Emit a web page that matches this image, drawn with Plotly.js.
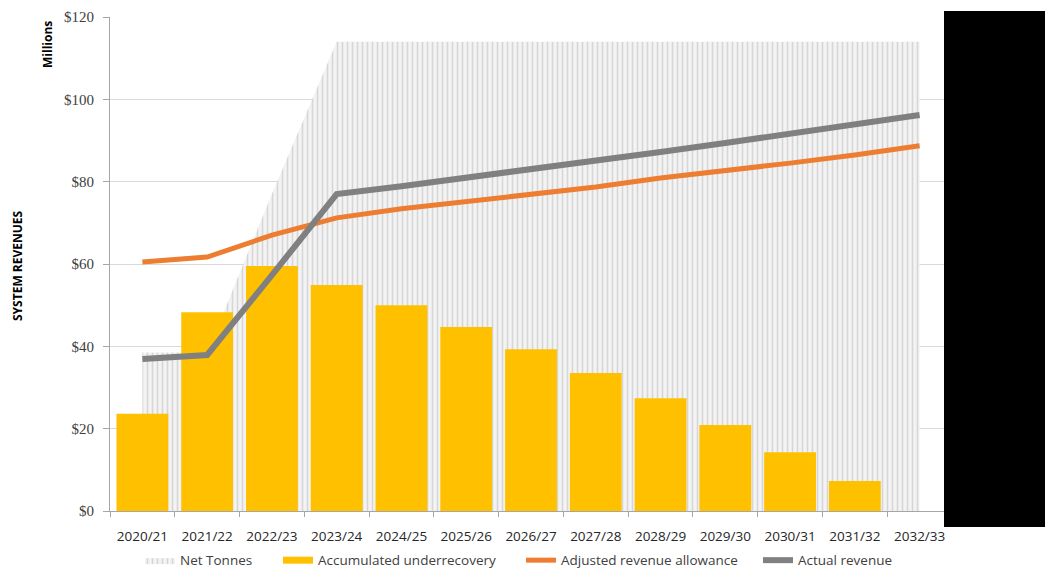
<!DOCTYPE html>
<html>
<head>
<meta charset="utf-8">
<script src="https://cdn.plot.ly/plotly-3.0.1.min.js"></script>
<style>html,body{margin:0;padding:0;background:#fff;}#chart{width:1045px;height:577px;}</style>
</head>
<body>
<div id="chart"></div>
<script>
const years = ["2020/21","2021/22","2022/23","2023/24","2024/25","2025/26","2026/27","2027/28","2028/29","2029/30","2030/31","2031/32","2032/33"];
const netTonnes = [38.5, 38.5, 77, 114, 114, 114, 114, 114, 114, 114, 114, 114, 114];
const underrecovery = [23.6, 48.3, 59.5, 54.9, 50.0, 44.7, 39.3, 33.5, 27.4, 20.9, 14.3, 7.3, 0];
const adjustedAllowance = [60.5, 61.7, 67.0, 71.2, 73.4, 75.1, 76.8, 78.7, 80.9, 82.6, 84.5, 86.5, 88.7];
const actualRevenue = [36.9, 37.9, 57.3, 77.0, 78.9, 80.9, 83.1, 85.0, 87.2, 89.4, 91.6, 93.8, 96.2];
const yTicks = [0, 20, 40, 60, 80, 100, 120];
const yTickText = ["$0", "$20", "$40", "$60", "$80", "$100", "$120"];

const font = "Open Sans, Liberation Sans, sans-serif";

const traces = [
  {
    type: "scatter", mode: "lines", name: "Net Tonnes", x: years, y: netTonnes,
    xaxis: "x", yaxis: "y", legend: "legend",
    fill: "tozeroy", line: {width: 0, color: "rgba(0,0,0,0)"},
    fillcolor: "#f2f2f2",
    fillpattern: {shape: "|", fgcolor: "#d6d6d6", bgcolor: "#f3f3f3", size: 5, solidity: 0.3},
    hoverinfo: "skip"
  },
  {
    type: "bar", name: "Accumulated underrecovery", x: years, y: underrecovery,
    xaxis: "x2", yaxis: "y2", showlegend: false,
    marker: {color: "#FFC000"}, width: 0.8
  },
  {
    // legend-only entry so the swatch is a wide rectangle like the reference
    type: "scatter", mode: "lines", name: "Accumulated underrecovery", x: [null], y: [null],
    xaxis: "x2", yaxis: "y2", legend: "legend2",
    line: {color: "#FFC000", width: 7}
  },
  {
    type: "scatter", mode: "lines", name: "Adjusted revenue allowance", x: years, y: adjustedAllowance,
    xaxis: "x2", yaxis: "y2", legend: "legend3",
    line: {color: "#ED7D31", width: 5}
  },
  {
    type: "scatter", mode: "lines", name: "Actual revenue", x: years, y: actualRevenue,
    xaxis: "x2", yaxis: "y2", legend: "legend4",
    line: {color: "#808080", width: 6}
  }
];

// paper spans y 17..577 (b = 0); plot bottom at pixel 511
const PH = 560, PW = 842;
const py = (pix) => (577 - pix) / PH;
const px = (pix) => (pix - 110) / PW;

const legFont = {family: font, size: 13.5, color: "#404040"};
const mkLeg = (textStart) => ({orientation: "h", x: px(textStart - 40), xanchor: "left", y: 0.002, yanchor: "bottom",
                               font: legFont, bgcolor: "rgba(0,0,0,0)"});

const layout = {
  width: 1045, height: 577,
  margin: {l: 110, r: 93, t: 17, b: 0},
  paper_bgcolor: "#ffffff", plot_bgcolor: "#ffffff",
  font: {family: font, size: 13, color: "#404040"},
  showlegend: true,
  legend: mkLeg(180),
  legend2: mkLeg(318),
  legend3: mkLeg(561),
  legend4: mkLeg(798),
  xaxis: {
    type: "category", tickson: "boundaries", ticks: "outside", ticklen: 5, tickcolor: "#a6a6a6",
    showline: true, linecolor: "#a6a6a6", linewidth: 1, showgrid: false, ticklabelstandoff: 13,
    tickfont: {family: font, size: 13.5, color: "#262626"}, range: [-0.5, 12.5]
  },
  xaxis2: {type: "category", overlaying: "x", range: [-0.5, 12.5], visible: false},
  yaxis: {
    domain: [py(511), 1],
    range: [0, 120], tickvals: yTicks, ticktext: yTickText, ticks: "outside", ticklen: 6, tickcolor: "#a6a6a6",
    showline: true, linecolor: "#a6a6a6", linewidth: 1, showgrid: true, gridcolor: "#d9d9d9",
    zeroline: false, ticklabelstandoff: 6,
    tickfont: {family: "Liberation Serif, serif", size: 15, color: "#404040"}
  },
  yaxis2: {overlaying: "y", range: [0, 120], visible: false},
  annotations: [
    {text: "<b>Millions</b>", xref: "paper", yref: "paper", x: px(47), y: py(45), textangle: -90,
     showarrow: false, font: {family: font, size: 12, color: "#000"}, xanchor: "center", yanchor: "middle"},
    {text: "<b>SYSTEM REVENUES</b>", xref: "paper", yref: "paper", x: px(17), y: py(266), textangle: -90,
     showarrow: false, font: {family: font, size: 12, color: "#000"}, xanchor: "center", yanchor: "middle"}
  ],
  shapes: [
    {type: "rect", xref: "paper", yref: "paper", x0: px(944), x1: 1.12, y0: py(527), y1: py(11),
     fillcolor: "#000000", line: {width: 0}, layer: "above"}
  ]
};

Plotly.newPlot("chart", traces, layout, {displayModeBar: false, staticPlot: true});
</script>
</body>
</html>
